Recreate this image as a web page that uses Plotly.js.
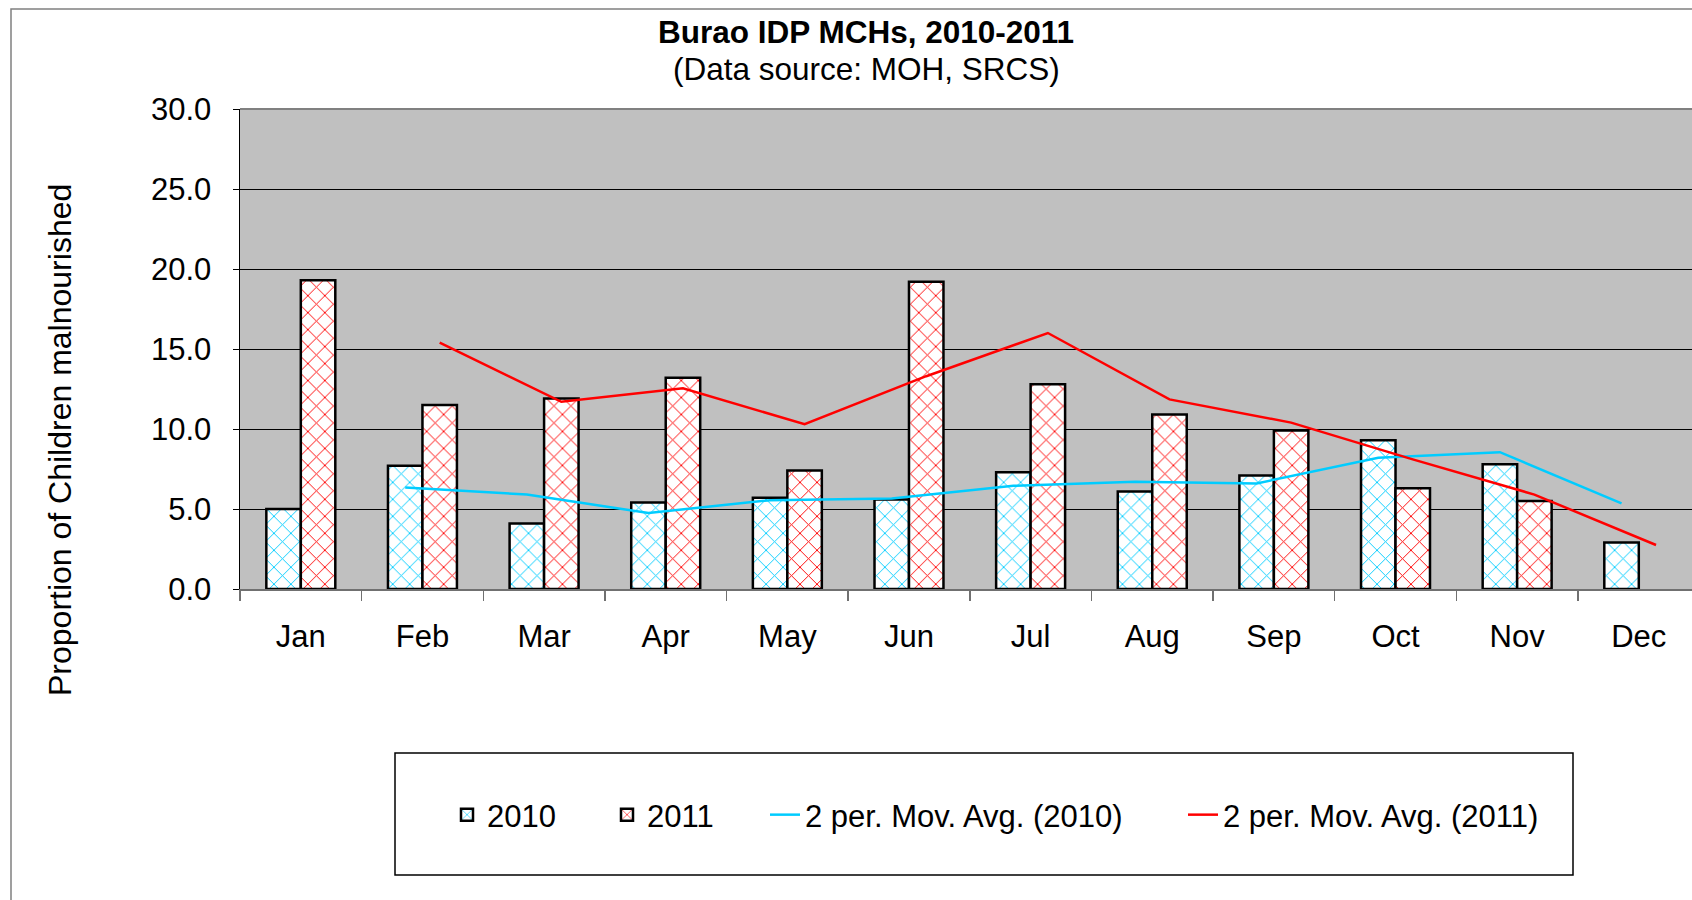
<!DOCTYPE html>
<html>
<head>
<meta charset="utf-8">
<script src="https://cdn.plot.ly/plotly-3.0.1.min.js"></script>
<style>
  html, body { margin: 0; padding: 0; overflow: hidden; background: #ffffff; }
  #chart { width: 1692px; height: 900px; }
</style>
</head>
<body>
<div id="chart"></div>
<script>
// ---- Data ----
const months = ['Jan', 'Feb', 'Mar', 'Apr', 'May', 'Jun', 'Jul', 'Aug', 'Sep', 'Oct', 'Nov', 'Dec'];
const values2010 = [5.0, 7.7, 4.1, 5.4, 5.7, 5.6, 7.3, 6.1, 7.1, 9.3, 7.8, 2.9];
const values2011 = [19.3, 11.5, 11.9, 13.2, 7.4, 19.2, 12.8, 10.9, 9.9, 6.3, 5.5, null];
const movAvg2010 = [null, 6.35, 5.9, 4.75, 5.55, 5.65, 6.45, 6.7, 6.6, 8.2, 8.55, 5.35];
const movAvg2011 = [null, 15.4, 11.7, 12.55, 10.3, 13.3, 16.0, 11.85, 10.4, 8.1, 5.9, 2.75];
const yTickVals = [0, 5, 10, 15, 20, 25, 30];
const titleText = 'Burao IDP MCHs, 2010-2011';
const subtitleText = '(Data source: MOH, SRCS)';
const yTitleText = 'Proportion of Children malnourished';

const FONT = 'Liberation Sans, Arial, sans-serif';
const FS = 31;
const CYAN = '#00CCFF';
const RED = '#FF0000';

// pixel -> paper helpers (plot area: x 240..1692, y 109..589)
const L = 240, T = 109, B = 589, W = 1692 - 240, H = 589 - 109;
const px = v => (v - L) / W;
const py = v => (B - v) / H;

const barPattern = c => ({ shape: 'x', fgcolor: c, bgcolor: '#ffffff', size: 12, solidity: 0.15, fillmode: 'replace' });

const traces = [
  {
    type: 'bar', name: '2010', x: months, y: values2010,
    offsetgroup: 'a', alignmentgroup: 'g', legend: 'legend',
    marker: { color: '#ffffff', line: { color: '#000000', width: 2.5 }, pattern: barPattern(CYAN) }
  },
  {
    type: 'bar', name: '2011', x: months, y: values2011,
    offsetgroup: 'b', alignmentgroup: 'g', legend: 'legend2',
    marker: { color: '#ffffff', line: { color: '#000000', width: 2.5 }, pattern: barPattern(RED) }
  },
  {
    type: 'scatter', mode: 'lines', name: '2 per. Mov. Avg. (2010)', x: months, y: movAvg2010,
    offsetgroup: 'a', alignmentgroup: 'g', legend: 'legend3',
    line: { color: CYAN, width: 2.5 }, connectgaps: false
  },
  {
    type: 'scatter', mode: 'lines', name: '2 per. Mov. Avg. (2011)', x: months, y: movAvg2011,
    offsetgroup: 'b', alignmentgroup: 'g', legend: 'legend4',
    line: { color: RED, width: 2.5 }, connectgaps: false
  }
];

const legendAt = textStartPx => ({
  orientation: 'h',
  x: px(textStartPx - 40), xanchor: 'left',
  y: py(815), yanchor: 'middle',
  bgcolor: 'rgba(0,0,0,0)',
  borderwidth: 0,
  font: { family: FONT, size: FS, color: '#000000' }
});

const layout = {
  width: 1692, height: 900,
  margin: { l: L, r: 0, t: T, b: 900 - B, pad: 0 },
  paper_bgcolor: '#ffffff',
  plot_bgcolor: '#C0C0C0',
  font: { family: FONT, color: '#000000', size: FS },
  barmode: 'group',
  bargap: 0.433,
  bargroupgap: 0,
  scattermode: 'group',
  scattergap: 0.433,
  showlegend: true,
  title: {
    text: '<b>' + titleText + '</b>',
    font: { family: FONT, size: 31.5, color: '#000000' },
    xref: 'container', x: 866 / 1692, xanchor: 'center',
    yref: 'container', y: 1 - 32 / 900, yanchor: 'middle'
  },
  annotations: [
    { text: subtitleText, xref: 'paper', yref: 'paper', x: px(866), y: py(69),
      xanchor: 'center', yanchor: 'middle', showarrow: false,
      font: { family: FONT, size: 31.5, color: '#000000' } },
    { text: yTitleText, xref: 'paper', yref: 'paper', x: px(60), y: py(440),
      xanchor: 'center', yanchor: 'middle', textangle: -90, showarrow: false,
      font: { family: FONT, size: 32, color: '#000000' } }
  ],
  xaxis: {
    type: 'category',
    range: [-0.5, 11.4375],
    showgrid: false,
    zeroline: false,
    showline: true, linecolor: '#707070', linewidth: 2,
    ticks: 'outside', tickson: 'boundaries', ticklen: 10, tickcolor: '#707070', tickwidth: 1.5,
    tickfont: { family: FONT, size: FS, color: '#000000' },
    ticklabelstandoff: 19,
    fixedrange: true
  },
  yaxis: {
    range: [0, 30],
    tickvals: yTickVals,
    tickformat: '.1f',
    showgrid: true, gridcolor: '#000000', gridwidth: 1,
    zeroline: false,
    showline: true, linecolor: '#000000', linewidth: 1.5,
    ticks: 'outside', ticklen: 6, tickcolor: '#000000', tickwidth: 1,
    tickfont: { family: FONT, size: FS, color: '#000000' },
    ticklabelstandoff: 15,
    fixedrange: true
  },
  legend: legendAt(487),
  legend2: legendAt(647),
  legend3: legendAt(805),
  legend4: legendAt(1223),
  shapes: [
    // outer chart border
    { type: 'rect', xref: 'paper', yref: 'paper', layer: 'below',
      x0: px(11), x1: px(1720), y0: py(930), y1: py(9),
      line: { color: '#808080', width: 1.5 }, fillcolor: 'rgba(0,0,0,0)' },
    // plot area top edge
    { type: 'line', xref: 'paper', yref: 'paper', x0: 0, x1: 1, y0: 1, y1: 1,
      line: { color: '#808080', width: 2 } },
    // legend box
    { type: 'rect', xref: 'paper', yref: 'paper',
      x0: px(395), x1: px(1573), y0: py(875), y1: py(753),
      line: { color: '#000000', width: 1.5 }, fillcolor: 'rgba(0,0,0,0)' }
  ]
};

Plotly.newPlot('chart', traces, layout, { displayModeBar: false, staticPlot: true });
</script>
</body>
</html>
